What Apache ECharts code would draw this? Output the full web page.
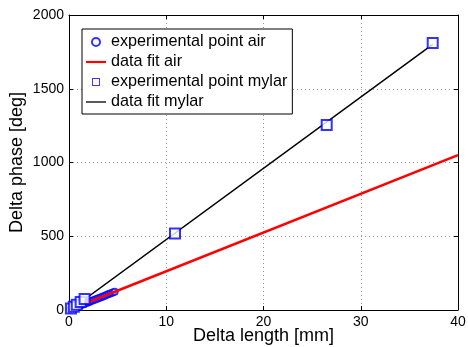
<!DOCTYPE html>
<html>
<head>
<meta charset="utf-8">
<script src="https://cdn.jsdelivr.net/npm/echarts@6/dist/echarts.min.js"></script>
<style>
  html, body { margin: 0; padding: 0; background: #fff; }
  #chart { width: 468px; height: 347px; }
</style>
</head>
<body>
<div id="chart"></div>
<script>
// measured points, air (mm, deg)
const airLength = [0.1, 0.3, 0.5, 0.7, 0.9, 1.1, 1.3, 1.5, 1.7, 1.9, 2.1, 2.3, 2.5, 2.7, 2.9, 3.1, 3.3, 3.5, 3.7, 3.9, 4.1, 4.3, 4.5, 4.7];
const airPhase = [3, 8, 13, 18, 24, 29, 34, 40, 45, 50, 55, 61, 66, 71, 76, 82, 87, 92, 97, 103, 108, 113, 118, 124];
// measured points, mylar
const mylarLength = [0.2, 0.5, 0.8, 1.2, 1.6, 10.9, 26.5, 37.4];
const mylarPhase = [10, 22, 36, 55, 75, 518, 1255, 1810];
// fitted lines (end points)
const airFit = [[0, 0], [40, 1050]];
const mylarFit = [[0, -5], [37.4, 1801]];

const xTicks = [0, 10, 20, 30, 40];
const yTicks = [0, 500, 1000, 1500, 2000];

const font = 'Liberation Sans, Arial, sans-serif';
const chart = echarts.init(document.getElementById('chart'));

const axisCommon = {
  axisLine: { show: true, onZero: false, lineStyle: { color: '#000', width: 1 } },
  axisTick: { show: true, inside: true, length: 4, lineStyle: { color: '#000' } }
};

// hollow square for the legend (outer cw, inner ccw)
const squareIcon = 'path://M0,0H10V10H0Z M1.2,1.2V8.8H8.8V1.2Z';

const option = {
  animation: false,
  backgroundColor: '#fff',
  grid: { left: 69, right: 10, top: 15, bottom: 37, outerBoundsMode: 'none', containLabel: false },
  legend: {
    orient: 'vertical',
    left: 82,
    top: 29,
    padding: [4, 5, 3, 4],
    itemWidth: 20,
    itemHeight: 8,
    itemGap: 2,
    symbolKeepAspect: true,
    borderColor: '#000',
    borderWidth: 1,
    backgroundColor: '#fff',
    textStyle: { fontFamily: font, fontSize: 16.2, color: '#000', lineHeight: 18 },
    data: [
      { name: 'experimental point air', icon: 'emptyCircle', itemStyle: { borderWidth: 0.8 } },
      { name: 'data fit air', icon: 'path://M0,0H23V2.5H0Z' },
      { name: 'experimental point mylar', icon: squareIcon, itemStyle: { borderWidth: 0 } },
      { name: 'data fit mylar', icon: 'path://M0,0H23V1.5H0Z' }
    ]
  },
  xAxis: [
    Object.assign({
      type: 'value', min: xTicks[0], max: xTicks[xTicks.length - 1], interval: 10,
      name: 'Delta length [mm]', nameLocation: 'middle', nameGap: 17, nameMoveOverlap: false,
      nameTextStyle: { fontFamily: font, fontSize: 18, color: '#000' },
      axisLabel: { fontFamily: font, fontSize: 14, color: '#000', margin: 5, formatter: v => String(v) },
      splitLine: { show: true, lineStyle: { color: '#999', type: [1, 3] } }
    }, axisCommon),
    Object.assign({
      type: 'value', position: 'top', min: 0, max: 40, interval: 10,
      axisLabel: { show: false }, splitLine: { show: false }
    }, axisCommon)
  ],
  yAxis: [
    Object.assign({
      type: 'value', min: yTicks[0], max: yTicks[yTicks.length - 1], interval: 500,
      name: 'Delta phase [deg]', nameLocation: 'middle', nameGap: 43, nameMoveOverlap: false,
      nameTextStyle: { fontFamily: font, fontSize: 18, color: '#000' },
      axisLabel: { fontFamily: font, fontSize: 14, color: '#000', margin: 5, formatter: v => String(v) },
      splitLine: { show: true, lineStyle: { color: '#999', type: [1, 3] } }
    }, axisCommon),
    Object.assign({
      type: 'value', position: 'right', min: 0, max: 2000, interval: 500,
      axisLabel: { show: false }, splitLine: { show: false }
    }, axisCommon)
  ],
  series: [
    {
      name: 'data fit air',
      type: 'line',
      symbol: 'none',
      z: 3,
      lineStyle: { color: '#ff0000', width: 2.5 },
      itemStyle: { color: '#ff0000' },
      data: airFit
    },
    {
      name: 'data fit mylar',
      type: 'line',
      symbol: 'none',
      z: 4,
      lineStyle: { color: '#000', width: 1.5 },
      itemStyle: { color: '#000' },
      data: mylarFit
    },
    {
      name: 'experimental point air',
      type: 'scatter',
      symbol: 'emptyCircle',
      symbolSize: 6,
      z: 2,
      itemStyle: { color: '#0000ff', borderColor: '#0000ff', borderWidth: 1 },
      data: airLength.map((x, i) => [x, airPhase[i]])
    },
    {
      name: 'experimental point mylar',
      type: 'scatter',
      symbol: 'emptyRect',
      symbolSize: 10,
      z: 5,
      itemStyle: { color: '#0000ff', borderColor: '#0000ff', borderWidth: 1.2 },
      data: mylarLength.map((x, i) => [x, mylarPhase[i]])
    }
  ]
};

chart.setOption(option);
</script>
</body>
</html>
